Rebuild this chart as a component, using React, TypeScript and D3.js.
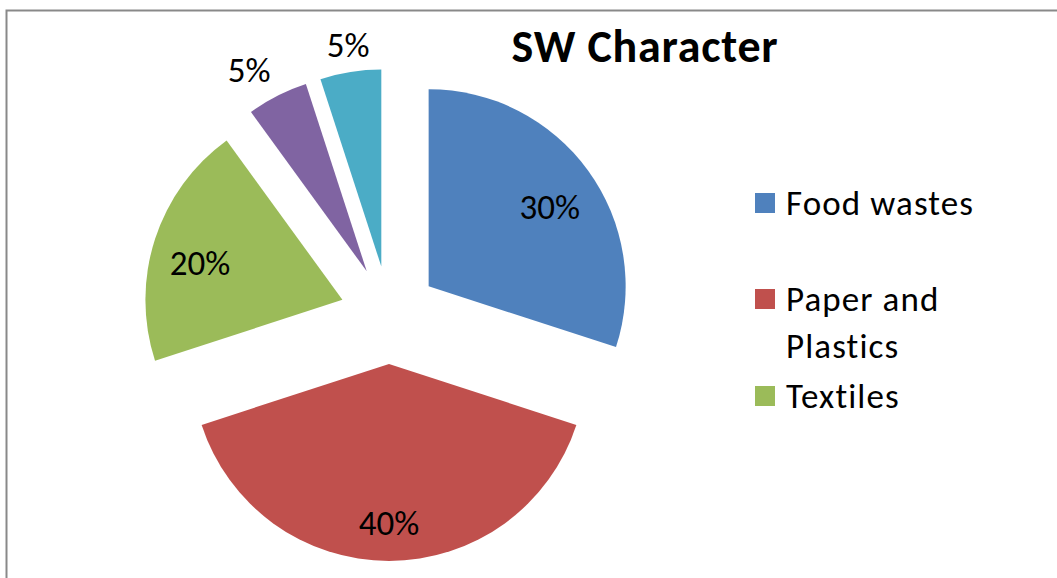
import { useEffect, useRef } from "react"
import * as d3 from "d3"

const categories = ["Food wastes", "Paper and Plastics", "Textiles", "Other 1", "Other 2"]
const values = [30, 40, 20, 5, 5]
const legendLines = [["Food wastes"], ["Paper and", "Plastics"], ["Textiles"]]
const colors = ["#4F81BD", "#C0504D", "#9BBB59", "#8064A2", "#4BACC6"]

const W = 1057
const H = 578
const cx = 389
const cy = 315
const radius = 197
const explode = 49
const font = "Carlito, Calibri, Lato, sans-serif"

const App = () => {
  const ref = useRef<SVGSVGElement>(null)

  useEffect(() => {
    const svg = d3.select(ref.current)
    svg.selectAll("*").remove()

    svg.append("rect")
      .attr("x", 0).attr("y", 0).attr("width", W).attr("height", H)
      .attr("fill", "#fff")

    // chart border, right and bottom run off the page
    svg.append("rect")
      .attr("x", 6.5).attr("y", 10.5).attr("width", W + 20).attr("height", H + 20)
      .attr("fill", "none").attr("stroke", "#898989").attr("stroke-width", 2)

    const total = d3.sum(values)
    const pie = d3.pie<number>().value(d => d).sort(null)
    const arc = d3.arc<d3.PieArcDatum<number>>().innerRadius(0).outerRadius(radius)
    const data = pie(values)

    const g = svg.append("g").attr("transform", `translate(${cx},${cy})`)

    const slices = g.selectAll("g.slice").data(data).enter()
      .append("g")
      .attr("class", "slice")
      .attr("transform", d => {
        const mid = (d.startAngle + d.endAngle) / 2
        return `translate(${explode * Math.sin(mid)},${-explode * Math.cos(mid)})`
      })

    slices.append("path")
      .attr("d", arc)
      .attr("fill", (d, i) => colors[i])

    const small = (d: d3.PieArcDatum<number>) => d.value / total < 0.1

    slices.append("text")
      .attr("transform", d => {
        const mid = (d.startAngle + d.endAngle) / 2
        const k = small(d) ? radius + 15 : radius * 0.76
        return `translate(${k * Math.sin(mid)},${-k * Math.cos(mid)})`
      })
      .attr("text-anchor", d => {
        if (!small(d)) return "middle"
        const s = Math.sin((d.startAngle + d.endAngle) / 2)
        return s < -0.3 ? "end" : s > 0.3 ? "start" : "middle"
      })
      .attr("dy", d => (small(d) ? "0" : "0.6em"))
      .attr("font-family", font)
      .attr("font-size", 35)
      .attr("fill", "#000")
      .text(d => `${Math.round((d.value / total) * 100)}%`)

    svg.append("text")
      .attr("x", 645).attr("y", 62)
      .attr("text-anchor", "middle")
      .attr("font-family", font)
      .attr("font-weight", "bold")
      .attr("font-size", 46)
      .attr("letter-spacing", 0.8)
      .text("SW Character")

    const legendY = [193, 289, 386]
    const legend = svg.selectAll("g.legend").data(legendLines).enter()
      .append("g")
      .attr("class", "legend")
      .attr("transform", (d, i) => `translate(755,${legendY[i]})`)

    legend.append("rect")
      .attr("width", 20).attr("height", 20)
      .attr("fill", (d, i) => colors[i])

    legend.append("text")
      .attr("font-family", font)
      .attr("font-size", 35)
      .attr("letter-spacing", 1.1)
      .style("font-variant-ligatures", "none")
      .attr("fill", "#000")
      .selectAll("tspan")
      .data(d => d)
      .enter()
      .append("tspan")
      .attr("x", 31)
      .attr("y", (d, j) => 22 + j * 47)
      .text(d => d)
  }, [])

  return (
    <svg ref={ref} width={W} height={H} style={{ position: "absolute", left: 0, top: 0 }} />
  )
}

export default App
